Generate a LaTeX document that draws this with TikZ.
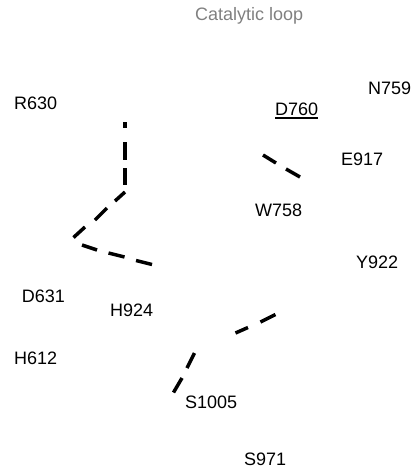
\documentclass[tikz,border=0pt]{standalone}
\usepackage{fontspec}
\setmainfont{Liberation Sans}
\begin{document}
\begin{tikzpicture}[x=1pt,y=-1pt,
  lbl/.style={inner sep=0pt, anchor=base west, font=\fontsize{18}{20}\selectfont, text=black},
  title/.style={lbl, text=black!50},
  dashseg/.style={line width=3.5pt, line cap=butt, black}]
\useasboundingbox (0,0) rectangle (413,469);
% labels
\node[title] (title) at (195,20.5) {Catalytic loop};
\node[lbl] (r630) at (14,109.3) {R630};
\node[lbl] (n759) at (368,94) {N759};
\node[lbl] (d760) at (275,115) {D760};
\draw[line width=1.3pt] ([yshift=-3pt]d760.base west) -- ([yshift=-3pt]d760.base east);
\node[lbl] (e917) at (341,165) {E917};
\node[lbl] (w758) at (255,216.7) {W758};
\node[lbl] (y922) at (356,268.3) {Y922};
\node[lbl] (d631) at (21.7,302.3) {D631};
\node[lbl] (h924) at (110,316.7) {H924};
\node[lbl] (h612) at (14,364.5) {H612};
\node[lbl] (s1005) at (185,408) {S1005};
\node[lbl] (s971) at (244,465) {S971};
% dashed traces
\foreach \ax/\ay/\bx/\by in {
  125/122/125/128, 125/142/125/160, 125/168/125/185,
  125/192/115/201, 107/208/95/220, 85/227/73.5/237.5,
  82/245/97/250, 108.5/253/124.5/257, 136/260.5/152/264.5,
  263/155/276/163, 286/169/300/177,
  173.5/392.5/182/378, 187/368/194.5/353,
  235.5/333/248/327.5, 260.5/322/275.5/314.5}
  \draw[dashseg] (\ax,\ay) -- (\bx,\by);
\end{tikzpicture}
\end{document}
